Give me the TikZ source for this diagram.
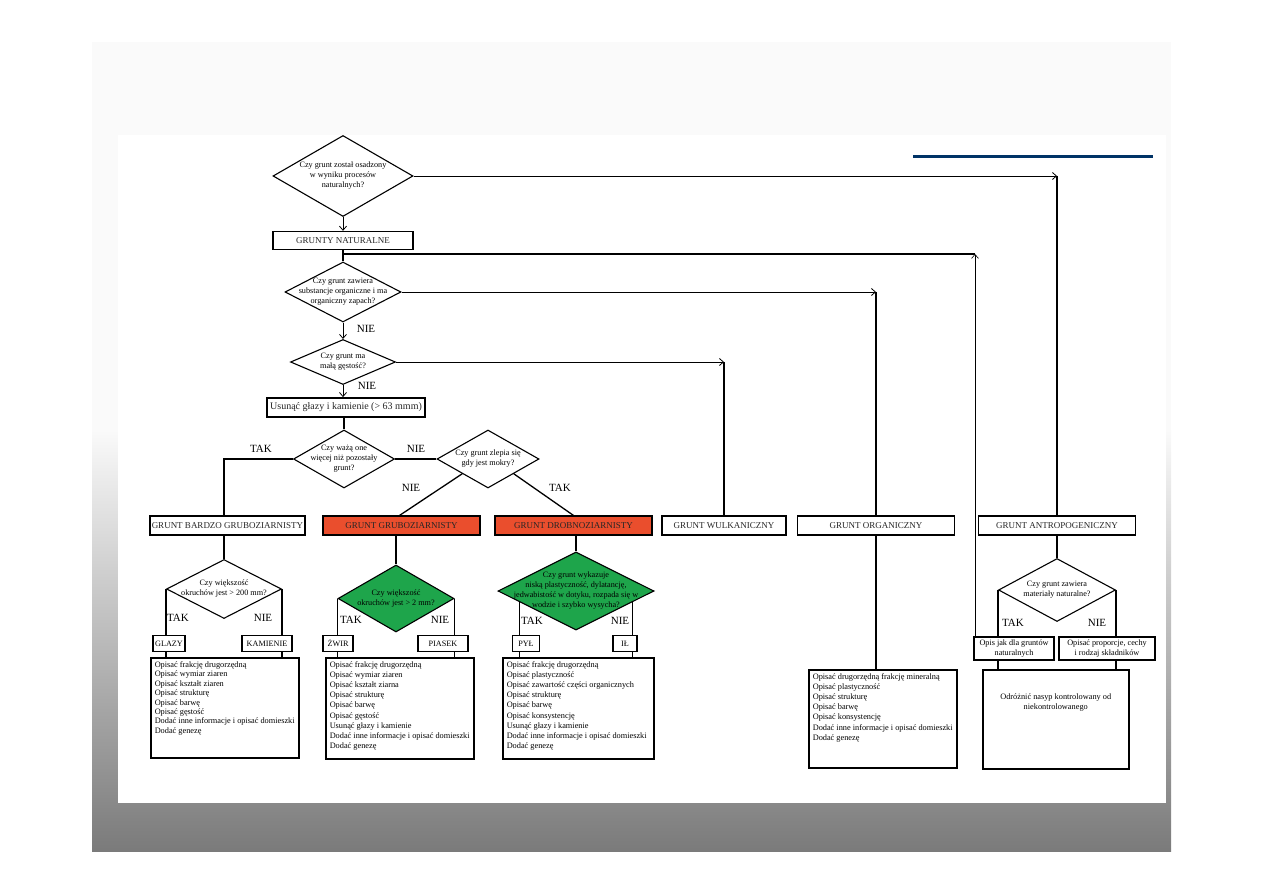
\documentclass[tikz,border=0pt]{standalone}
\usepackage{fontspec}
\setmainfont{Liberation Serif}
\usetikzlibrary{arrows.meta, positioning, shapes.geometric, calc}
\definecolor{soilred}{RGB}{234,78,45}
\definecolor{soilgreen}{RGB}{30,165,75}
\definecolor{slideblue}{RGB}{0,51,102}
\newcommand{\fsQ}{\fontsize{8.2}{10}\selectfont}
\newcommand{\fsCat}{\fontsize{9}{10.5}\selectfont}
\newcommand{\fsList}{\fontsize{8.3}{10.1}\selectfont}
\newcommand{\fsYN}{\fontsize{11}{12}\selectfont}
\newcommand{\fsLeaf}{\fontsize{8.2}{10}\selectfont}
\newcommand{\fsUs}{\fontsize{10}{11}\selectfont}

\begin{document}
\begin{tikzpicture}[
  x=1pt, y=-1pt,
  cat/.style     = {draw, line width=1.1pt, fill=white, inner sep=0pt,
                    minimum height=19pt, font=\fsCat, text=black!85},
  hot/.style     = {cat, fill=soilred},
  dia/.style     = {draw, diamond, line width=1.1pt, fill=white, inner sep=0pt},
  wet/.style     = {dia, fill=soilgreen},
  qtxt/.style    = {font=\fsQ, align=center, inner sep=0pt},
  leaf/.style    = {draw, line width=1.1pt, fill=white, inner sep=0pt,
                    minimum height=16pt, font=\fsLeaf},
  listbox/.style = {draw, line width=1.5pt, fill=white, inner sep=4pt,
                    anchor=north west, font=\fsList},
  yn/.style      = {font=\fsYN, inner sep=0pt},
  link/.style    = {line width=1.3pt},
  arr/.style     = {-{Straight Barb[length=4pt, width=7pt]}, line width=0.8pt},
]
  % slide background
  \useasboundingbox (0,0) rectangle (1263,893);
  \fill[black!2] (92,42) rectangle (1171,430);
  \shade[top color=black!2, bottom color=black!52] (92,430) rectangle (1171,851);
  \fill[white] (118,135) rectangle (1166,803);
  \draw[slideblue, line width=3pt] (913,157) -- (1153,157);

  % main trunk
  \node[dia, minimum width=140pt, minimum height=81pt,
        label={[qtxt]center:{Czy grunt został osadzony\\w wyniku procesów\\naturalnych?}}] (d1) at (343,176) {};
  \node[cat, line width=1.4pt, minimum width=140pt, minimum height=18pt] (gn) at (343,240.5) {GRUNTY NATURALNE};
  \node[dia, minimum width=116pt, minimum height=60pt,
        label={[qtxt]center:{Czy grunt zawiera\\substancje organiczne i ma\\organiczny zapach?}}] (d2) at (343,292) {};
  \node[dia, minimum width=105pt, minimum height=45pt,
        label={[qtxt]center:{Czy grunt ma\\małą gęstość?}}] (d3) at (343,362) {};
  \node[cat, line width=1.8pt, minimum width=158pt, font=\fsUs] (usun) at (346,407.5) {Usunąć głazy i kamienie (> 63 mmm)};
  \node[dia, minimum width=101pt, minimum height=58pt,
        label={[qtxt]center:{Czy ważą one\\więcej niż pozostały\\grunt?}}] (d4) at (344,459) {};
  \node[dia, minimum width=102pt, minimum height=58pt,
        label={[qtxt]center:{Czy grunt zlepia się\\gdy jest mokry?}}] (d5) at (488,459) {};

  % soil groups
  \node[cat, minimum width=155pt] (gbg) at (227.5,525.5) {GRUNT BARDZO GRUBOZIARNISTY};
  \node[hot, minimum width=157pt] (gg)  at (401.5,525.5) {GRUNT GRUBOZIARNISTY};
  \node[hot, minimum width=157pt] (gd)  at (573.5,525.5) {GRUNT DROBNOZIARNISTY};
  \node[cat, minimum width=124pt] (gw)  at (724,525.5) {GRUNT WULKANICZNY};
  \node[cat, minimum width=157pt] (go)  at (876,525.5) {GRUNT ORGANICZNY};
  \node[cat, minimum width=157pt] (ga)  at (1057,525.5) {GRUNT ANTROPOGENICZNY};

  % second level questions
  \node[dia, minimum width=115pt, minimum height=59pt,
        label={[qtxt]center:{Czy większość\\okruchów jest > 200 mm?}}] (d6) at (224,589) {};
  \node[wet, minimum width=116pt, minimum height=67pt,
        label={[qtxt]center:{Czy większość\\okruchów jest > 2 mm?}}] (d7) at (396,598.5) {};
  \node[wet, minimum width=156pt, minimum height=78pt,
        label={[qtxt]center:{Czy grunt wykazuje\\niską plastyczność, dylatancję,\\jedwabistość w dotyku, rozpada się w\\wodzie i szybko wysycha?}}] (d8) at (576,591) {};
  \node[dia, minimum width=117pt, minimum height=63pt,
        label={[qtxt]center:{Czy grunt zawiera\\materiały naturalne?}}] (d9) at (1057,590) {};

  % leaves
  \node[leaf, minimum width=32pt] (glazy)    at (169,643.5) {GLAZY};
  \node[leaf, minimum width=50pt] (kamienie) at (267,643.5) {KAMIENIE};
  \node[leaf, minimum width=30pt] (zwir)     at (338,643.5) {ŻWIR};
  \node[leaf, minimum width=50pt] (piasek)   at (443,643.5) {PIASEK};
  \node[leaf, minimum width=27pt] (pyl)      at (526,643.5) {PYŁ};
  \node[leaf, minimum width=24pt] (il)       at (625,643.5) {IŁ};
  \node[leaf, minimum width=80pt, minimum height=23pt, align=center, font=\fsQ] (ojak)  at (1014,648.5) {Opis jak dla gruntów\\naturalnych};
  \node[leaf, minimum width=96pt, minimum height=23pt, align=center, font=\fsQ] (oprop) at (1107,648.5) {Opisać proporcje, cechy\\i rodzaj składników};

  % description lists
  \node[listbox] (lgbg) at (150,657) {\parbox[t][92pt][t]{140pt}{\fontsize{8.3}{9.4}\selectfont
    Opisać frakcję drugorzędną\\Opisać wymiar ziaren\\Opisać kształt ziaren\\Opisać strukturę\\
    Opisać barwę\\Opisać gęstość\\Dodać inne informacje i opisać domieszki\\Dodać genezę}};
  \node[listbox] (lgg) at (325,657) {\parbox[t][93pt][t]{140pt}{
    Opisać frakcję drugorzędną\\Opisać wymiar ziaren\\Opisać kształt ziarna\\Opisać strukturę\\
    Opisać barwę\\Opisać gęstość\\Usunąć głazy i kamienie\\Dodać inne informacje i opisać domieszki\\Dodać genezę}};
  \node[listbox] (lgd) at (502,657) {\parbox[t][93pt][t]{143pt}{
    Opisać frakcję drugorzędną\\Opisać plastyczność\\Opisać zawartość części organicznych\\Opisać strukturę\\
    Opisać barwę\\Opisać konsystencję\\Usunąć głazy i kamienie\\Dodać inne informacje i opisać domieszki\\Dodać genezę}};
  \node[listbox] (lgo) at (808,669) {\parbox[t][90pt][t]{140pt}{
    Opisać drugorzędną frakcję mineralną\\Opisać plastyczność\\Opisać strukturę\\Opisać barwę\\
    Opisać konsystencję\\Dodać inne informacje i opisać domieszki\\Dodać genezę}};
  \node[listbox] (lga) at (982,669) {\parbox[t][91pt][t]{138pt}{\centering\vspace*{20pt}
    Odróżnić nasyp kontrolowany od\\niekontrolowanego}};

  % trunk connectors
  \draw[arr]  (d1.south) -- (gn.north);
  \draw[link] (gn.south) -- (d2.north);
  \draw[arr]  (d2.south) -- (d3.north);
  \draw[arr]  (d3.south) -- (d3.south |- usun.north);
  \draw[link] (d4.north |- usun.south) -- (d4.north);
  \node[yn] (nie2) at (366,329) {NIE};
  \node[yn] (nie3) at (367,386) {NIE};

  % side exits
  \draw[arr]  (d1.east) -- (d1.east -| ga.north);
  \draw[link] (d1.east -| ga.north) -- (ga.north);
  \draw[arr]  (d2.east) -- (d2.east -| go.north);
  \draw[link] (d2.east -| go.north) -- (go.north);
  \draw[link] (go.south) -- (go.south |- lgo.north);
  \draw[arr]  (d3.east) -- (d3.east -| gw.north);
  \draw[link] (d3.east -| gw.north) -- (gw.north);

  % back to natural soils
  \coordinate (back) at (975,254);
  \draw[arr, line width=0.6pt] (back |- ojak.north) -- (back);
  \draw[link] (back) -- (back -| gn.south);

  % grain size split
  \draw[link] (d4.west) -| ([xshift=-3.5pt]gbg.north);
  \draw[link] (d4.east) -- (d5.west);
  \draw[link] ($(d5.west)!0.5!(d5.south)$) -- ([xshift=-2pt]gg.north);
  \draw[link] ($(d5.east)!0.5!(d5.south)$) -- (gd.north);
  \node[yn] (tak4) at (261,449) {TAK};
  \node[yn] (nie4) at (416,449) {NIE};
  \node[yn] (nie5) at (411,488) {NIE};
  \node[yn] (tak5) at (560,488) {TAK};

  % group to second question
  \draw[link] (d6.north |- gbg.south) -- (d6.north);
  \draw[link] (d7.north |- gg.south) -- (d7.north);
  \draw[link] (d8.north |- gd.south) -- (d8.north);
  \draw[link] (ga.south) -- (d9.north);

  % branches down to the lists
  \draw[link] (d6.west) -- (d6.west |- glazy.north);
  \draw[link] (d6.west |- glazy.south) -- (d6.west |- lgbg.north);
  \draw[link] (d6.east) -- (d6.east |- kamienie.north);
  \draw[link] (d6.east |- kamienie.south) -- (d6.east |- lgbg.north);
  \draw[link] (d7.west) -- (d7.west |- zwir.north);
  \draw[link] (d7.west |- zwir.south) -- (d7.west |- lgg.north);
  \draw[link] (d7.east) -- (d7.east |- piasek.north);
  \draw[link] (d7.east |- piasek.south) -- (d7.east |- lgg.north);
  \coordinate (d8l) at ($(d8.west)!0.28!(d8.south)$);
  \coordinate (d8r) at ($(d8.east)!0.28!(d8.south)$);
  \draw[link] (d8l) -- (d8l |- pyl.north);
  \draw[link] (d8l |- pyl.south) -- (d8l |- lgd.north);
  \draw[link] (d8r) -- (d8r |- il.north);
  \draw[link] (d8r |- il.south) -- (d8r |- lgd.north);
  \draw[link] (d9.west) -- (d9.west |- ojak.north);
  \draw[link] (d9.west |- ojak.south) -- (d9.west |- lga.north);
  \draw[link] (d9.east) -- (d9.east |- oprop.north);
  \draw[link] (d9.east |- oprop.south) -- (d9.east |- lga.north);

  \node[yn] (tak6) at (178,618) {TAK};
  \node[yn] (nie6) at (263,618) {NIE};
  \node[yn] (tak7) at (351,620) {TAK};
  \node[yn] (nie7) at (440,620) {NIE};
  \node[yn] (tak8) at (532,621) {TAK};
  \node[yn] (nie8) at (620,621) {NIE};
  \node[yn] (tak9) at (1013,623) {TAK};
  \node[yn] (nie9) at (1097,623) {NIE};
\end{tikzpicture}
\end{document}
